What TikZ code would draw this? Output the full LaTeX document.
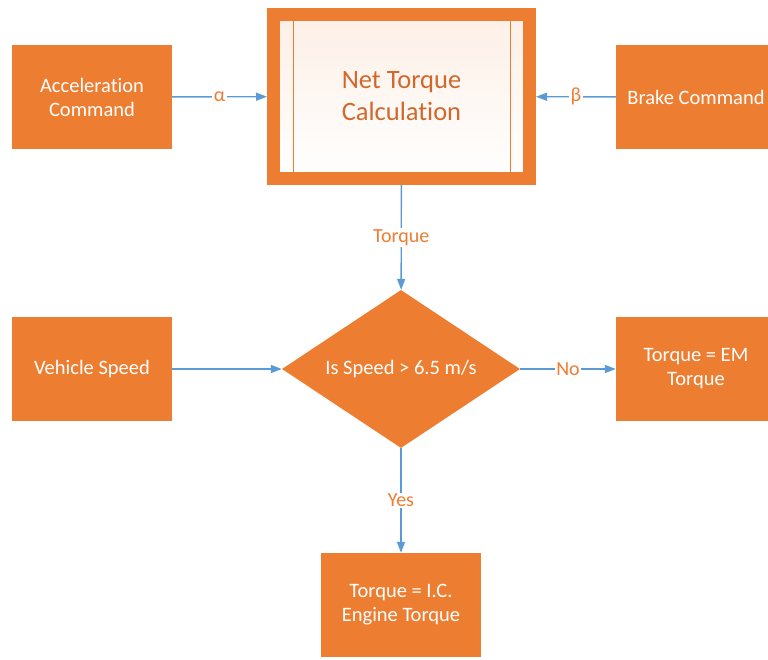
\documentclass[tikz,border=0pt]{standalone}
\usepackage{fontspec}
\setmainfont[Ligatures=CommonOff]{Carlito}
\usetikzlibrary{shapes.geometric, arrows.meta}

\definecolor{boxorange}{HTML}{ED7D31}
\definecolor{darkorange}{HTML}{D2672A}
\definecolor{lineblue}{HTML}{5B9BD5}

\begin{document}
\begin{tikzpicture}[
            x=1pt, y=-1pt,
            block/.style={fill=boxorange, text=white, minimum width=160pt, minimum height=104pt,
                    align=center, font=\fontsize{20.5}{24}\selectfont},
            decision/.style={diamond, aspect=1.5, fill=boxorange, text=white, minimum width=238pt, minimum height=158pt,
                    inner sep=0pt, font=\fontsize{20.5}{24}\selectfont},
            flow/.style={draw=lineblue, line width=1.4pt, -{Triangle[length=11pt, width=8pt]}},
            lbl/.style={midway, fill=white, inner sep=1.5pt, text=boxorange, font=\fontsize{20}{22}\selectfont}
        ]
        \useasboundingbox (0,0) rectangle (768,660);

        % Inputs
        \node[block] (accel) at (92,97) {Acceleration\\Command};
        \node[block] (brake) at (696,97) {Brake Command};
        \node[block] (speed) at (92,369) {Vehicle Speed};

        % Net torque box
        \node[draw=boxorange, line width=13pt, top color=boxorange!12, bottom color=white,
            minimum width=256pt, minimum height=164pt, text=darkorange,
            align=center, font=\fontsize{26.5}{32}\selectfont] (calc) at (401.5,96.5) {Net Torque\\Calculation};
        \draw[boxorange, line width=0.8pt] ([xshift=26pt,yshift=-13pt]calc.north west) -- ([xshift=26pt,yshift=13pt]calc.south west);
        \draw[boxorange, line width=0.8pt] ([xshift=-26pt,yshift=-13pt]calc.north east) -- ([xshift=-26pt,yshift=13pt]calc.south east);

        % Decision
        \node[decision] (check) at (401,369) {Is Speed > 6.5 m/s};

        % Outputs
        \node[block] (em) at (696,369) {Torque = EM\\Torque};
        \node[block] (ice) at (401,605) {Torque = I.C.\\Engine Torque};

        % Connectors
        \draw[flow] (accel) -- node[lbl] {α} (calc);
        \draw[flow] (brake) -- node[lbl] {β} (calc);
        \draw[flow] (calc) -- node[lbl] {Torque} (check);
        \draw[flow] (speed) -- (check);
        \draw[flow] (check) -- node[lbl] {No} (em);
        \draw[flow] (check) -- node[lbl] {Yes} (ice);

    \end{tikzpicture}
\end{document}
